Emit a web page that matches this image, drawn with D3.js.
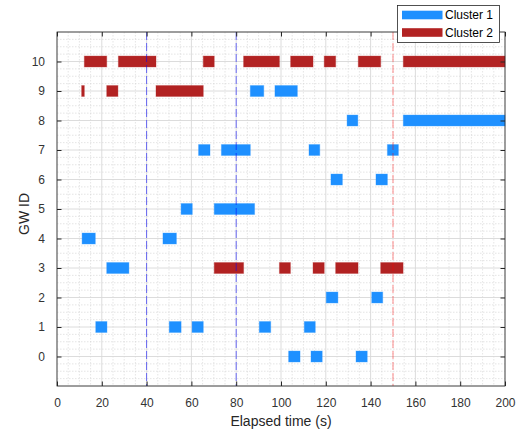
<!DOCTYPE html>
<html>
<head>
<meta charset="utf-8">
<script src="https://cdn.jsdelivr.net/npm/d3@7"></script>
<style>
  html, body { margin: 0; padding: 0; background: #fff; }
  svg { display: block; font-family: "Liberation Sans", Arial, Helvetica, sans-serif; }
</style>
</head>
<body>
<svg id="chart" width="523" height="437"></svg>
<script>
// Activity intervals per gateway: [gateway id, start (s), end (s)]
const cluster1Segments = [
  [9, 86.3, 92.3], [9, 97.3, 107.3],
  [8, 129.5, 134.3], [8, 154.6, 200],
  [7, 63.2, 68.3], [7, 73.4, 86.3], [7, 112.5, 117.3], [7, 147.5, 152.4],
  [6, 122.3, 127.4], [6, 142.4, 147.5],
  [5, 55.4, 60.4], [5, 70.2, 88.2],
  [4, 11.2, 17.1], [4, 47.3, 53.3],
  [3, 22.2, 32.1],
  [2, 120.2, 125.4], [2, 140.5, 145.4],
  [1, 17.3, 22.3], [1, 50.1, 55.4], [1, 60.3, 65.3], [1, 90.3, 95.4], [1, 110.4, 115.3],
  [0, 103.4, 108.5], [0, 113.4, 118.4], [0, 133.5, 138.5]
];
const cluster2Segments = [
  [10, 12.2, 22.2], [10, 27.4, 44.2], [10, 65.3, 70.2], [10, 83.3, 99.3],
  [10, 104.3, 114.3], [10, 119.3, 124.4], [10, 134.5, 144.5], [10, 154.6, 200],
  [9, 11.0, 12.2], [9, 22.2, 27.2], [9, 44.2, 65.3],
  [3, 70.2, 83.3], [3, 99.3, 104.2], [3, 114.3, 119.3], [3, 124.4, 134.4], [3, 144.5, 154.5]
];
const clusterNames = ["Cluster 1", "Cluster 2"];
const blueMarkers = [40, 80];   // vertical reference times (blue)
const redMarkers = [150];       // vertical reference time (red)
const xTicks = [0, 20, 40, 60, 80, 100, 120, 140, 160, 180, 200];
const yTicks = [0, 1, 2, 3, 4, 5, 6, 7, 8, 9, 10];

const colors = ["#1e90ff", "#b22222"];
const axisColor = "#262626";

const svg = d3.select("#chart");
const plotLeft = 57, plotRight = 505, plotTop = 32, plotBottom = 386;

const x = d3.scaleLinear().domain([0, 200]).range([plotLeft, plotRight]);
const y = d3.scaleLinear().domain([-1, 11]).range([plotBottom, plotTop]);

// Minor grid (dotted)
const minorX = d3.range(0, 200.01, 5).filter(v => v % 20 !== 0);
const minorY = d3.range(-1, 11.001, 0.25).filter(v => Math.abs(v - Math.round(v)) > 1e-6);
const grid = svg.append("g");
grid.selectAll("line.mx").data(minorX).join("line")
  .attr("x1", d => x(d)).attr("x2", d => x(d)).attr("y1", plotTop).attr("y2", plotBottom)
  .attr("stroke", "#d4d4d4").attr("stroke-width", 0.6).attr("stroke-dasharray", "1.5,1.5");
grid.selectAll("line.my").data(minorY).join("line")
  .attr("y1", d => y(d)).attr("y2", d => y(d)).attr("x1", plotLeft).attr("x2", plotRight)
  .attr("stroke", "#d4d4d4").attr("stroke-width", 0.6).attr("stroke-dasharray", "1.5,1.5");
// Major grid (solid)
grid.selectAll("line.gx").data(xTicks).join("line")
  .attr("x1", d => x(d)).attr("x2", d => x(d)).attr("y1", plotTop).attr("y2", plotBottom)
  .attr("stroke", "#d8d8d8").attr("stroke-width", 0.9);
grid.selectAll("line.gy").data(d3.range(-1, 12)).join("line")
  .attr("y1", d => y(d)).attr("y2", d => y(d)).attr("x1", plotLeft).attr("x2", plotRight)
  .attr("stroke", "#d8d8d8").attr("stroke-width", 0.9);

// Interval bars
const barHalf = 0.185;
[cluster1Segments, cluster2Segments].forEach((segs, i) => {
  svg.append("g").selectAll("rect").data(segs).join("rect")
    .attr("x", d => x(d[1]))
    .attr("width", d => x(d[2]) - x(d[1]))
    .attr("y", d => y(d[0] + barHalf))
    .attr("height", d => y(d[0] - barHalf) - y(d[0] + barHalf))
    .attr("fill", colors[i])
    .attr("stroke", colors[i]).attr("stroke-opacity", 0.35).attr("stroke-width", 1);
});

// Dashed vertical reference lines
svg.append("g").selectAll("line").data(blueMarkers).join("line")
  .attr("x1", d => x(d)).attr("x2", d => x(d)).attr("y1", plotTop).attr("y2", plotBottom)
  .attr("stroke", "#0000ff").attr("stroke-opacity", 0.55).attr("stroke-width", 1)
  .attr("stroke-dasharray", "8,3");
svg.append("g").selectAll("line").data(redMarkers).join("line")
  .attr("x1", d => x(d)).attr("x2", d => x(d)).attr("y1", plotTop).attr("y2", plotBottom)
  .attr("stroke", "#ff0000").attr("stroke-opacity", 0.45).attr("stroke-width", 1)
  .attr("stroke-dasharray", "8,3");

// Axes with inward ticks on all four sides
function styleAxis(g) {
  g.select(".domain").remove();
  g.selectAll(".tick line").attr("stroke", axisColor);
  g.selectAll(".tick text").attr("fill", "#333").attr("font-size", 12)
    .attr("font-family", "Liberation Sans, Arial, sans-serif");
}
svg.append("g").attr("transform", `translate(0,${plotBottom})`)
  .call(d3.axisBottom(x).tickValues(xTicks).tickSizeInner(-4.5).tickSizeOuter(0).tickPadding(12))
  .call(styleAxis);
svg.append("g").attr("transform", `translate(0,${plotTop})`)
  .call(d3.axisTop(x).tickValues(xTicks).tickSizeInner(-4.5).tickSizeOuter(0).tickFormat(""))
  .call(styleAxis);
svg.append("g").attr("transform", `translate(${plotLeft},0)`)
  .call(d3.axisLeft(y).tickValues(yTicks).tickSizeInner(-4.5).tickSizeOuter(0).tickPadding(12))
  .call(styleAxis);
svg.append("g").attr("transform", `translate(${plotRight},0)`)
  .call(d3.axisRight(y).tickValues(yTicks).tickSizeInner(-4.5).tickSizeOuter(0).tickFormat(""))
  .call(styleAxis);

// Axes box
svg.append("rect").attr("x", plotLeft).attr("y", plotTop)
  .attr("width", plotRight - plotLeft).attr("height", plotBottom - plotTop)
  .attr("fill", "none").attr("stroke", axisColor).attr("stroke-width", 0.8);

// Axis labels
svg.append("text").attr("x", (plotLeft + plotRight) / 2).attr("y", 426)
  .attr("text-anchor", "middle").attr("font-size", 14).attr("fill", axisColor)
  .text("Elapsed time (s)");
svg.append("text")
  .attr("transform", `translate(24,214) rotate(-90)`)
  .attr("text-anchor", "middle").attr("dy", "0.35em").attr("font-size", 14).attr("fill", axisColor)
  .text("GW ID");

// Legend
const legend = svg.append("g");
legend.append("rect").attr("x", 397.5).attr("y", 5.5).attr("width", 102).attr("height", 37)
  .attr("fill", "#fff").attr("stroke", axisColor).attr("stroke-width", 0.8);
clusterNames.forEach((name, i) => {
  const cy = 15 + i * 17.5;
  legend.append("rect").attr("x", 402).attr("y", cy - 4.3).attr("width", 40.5).attr("height", 8.6)
    .attr("fill", colors[i]);
  legend.append("text").attr("x", 445).attr("y", cy).attr("dy", "0.35em")
    .attr("font-size", 12).attr("fill", "#000").text(name);
});
</script>
</body>
</html>
